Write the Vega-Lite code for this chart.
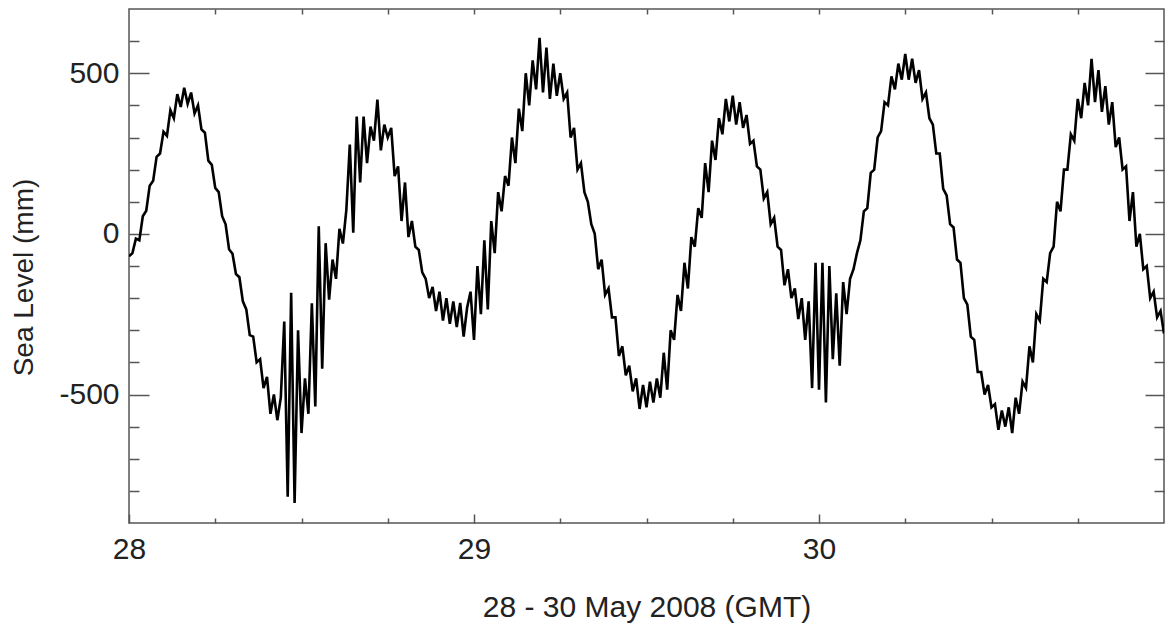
{
  "$schema": "https://vega.github.io/schema/vega-lite/v6.json",
  "width": 1035,
  "height": 514,
  "autosize": {"type": "none"},
  "padding": {"left": 129, "top": 9, "right": 2, "bottom": 116},
  "background": "white",
  "config": {
    "view": {"stroke": "#555", "strokeWidth": 1.5},
    "font": "Liberation Sans",
    "axis": {"domain": false, "grid": false, "tickColor": "#555", "tickWidth": 1.5, "labelColor": "#222", "titleColor": "#222", "labelFont": "Liberation Sans", "titleFont": "Liberation Sans", "titleFontWeight": "normal"}
  },
  "data": {"values": [
    {"d":28.00,"mm":-70},{"d":28.01,"mm":-60},{"d":28.02,"mm":-15},{"d":28.03,"mm":-20},{"d":28.04,"mm":55},{"d":28.05,"mm":72},{"d":28.06,"mm":150},{"d":28.07,"mm":165},{"d":28.08,"mm":240},{"d":28.09,"mm":250},
    {"d":28.10,"mm":318},{"d":28.11,"mm":305},{"d":28.12,"mm":385},{"d":28.13,"mm":360},{"d":28.14,"mm":435},{"d":28.15,"mm":395},{"d":28.16,"mm":455},{"d":28.17,"mm":405},{"d":28.18,"mm":440},{"d":28.19,"mm":375},
    {"d":28.20,"mm":400},{"d":28.21,"mm":325},{"d":28.22,"mm":315},{"d":28.23,"mm":228},{"d":28.24,"mm":215},{"d":28.25,"mm":143},{"d":28.26,"mm":130},{"d":28.27,"mm":55},{"d":28.28,"mm":30},{"d":28.29,"mm":-48},
    {"d":28.30,"mm":-62},{"d":28.31,"mm":-125},{"d":28.32,"mm":-135},{"d":28.33,"mm":-210},{"d":28.34,"mm":-235},{"d":28.35,"mm":-315},{"d":28.36,"mm":-320},{"d":28.37,"mm":-400},{"d":28.38,"mm":-390},{"d":28.39,"mm":-480},
    {"d":28.40,"mm":-445},{"d":28.41,"mm":-560},{"d":28.42,"mm":-500},{"d":28.43,"mm":-580},{"d":28.44,"mm":-510},{"d":28.45,"mm":-273},{"d":28.46,"mm":-818},{"d":28.47,"mm":-183},{"d":28.48,"mm":-838},{"d":28.49,"mm":-300},
    {"d":28.50,"mm":-620},{"d":28.51,"mm":-450},{"d":28.52,"mm":-560},{"d":28.53,"mm":-216},{"d":28.54,"mm":-537},{"d":28.55,"mm":24},{"d":28.56,"mm":-420},{"d":28.57,"mm":-29},{"d":28.58,"mm":-205},{"d":28.59,"mm":-80},
    {"d":28.60,"mm":-140},{"d":28.61,"mm":16},{"d":28.62,"mm":-30},{"d":28.63,"mm":75},{"d":28.64,"mm":278},{"d":28.65,"mm":4},{"d":28.66,"mm":365},{"d":28.67,"mm":160},{"d":28.68,"mm":365},{"d":28.69,"mm":220},
    {"d":28.70,"mm":334},{"d":28.71,"mm":290},{"d":28.72,"mm":418},{"d":28.73,"mm":260},{"d":28.74,"mm":340},{"d":28.75,"mm":300},{"d":28.76,"mm":330},{"d":28.77,"mm":180},{"d":28.78,"mm":210},{"d":28.79,"mm":40},
    {"d":28.80,"mm":160},{"d":28.81,"mm":-10},{"d":28.82,"mm":40},{"d":28.83,"mm":-40},{"d":28.84,"mm":-50},{"d":28.85,"mm":-120},{"d":28.86,"mm":-140},{"d":28.87,"mm":-200},{"d":28.88,"mm":-165},{"d":28.89,"mm":-240},
    {"d":28.90,"mm":-180},{"d":28.91,"mm":-270},{"d":28.92,"mm":-200},{"d":28.93,"mm":-280},{"d":28.94,"mm":-210},{"d":28.95,"mm":-290},{"d":28.96,"mm":-215},{"d":28.97,"mm":-320},{"d":28.98,"mm":-230},{"d":28.99,"mm":-180},
    {"d":29.00,"mm":-330},{"d":29.01,"mm":-100},{"d":29.02,"mm":-250},{"d":29.03,"mm":-20},{"d":29.04,"mm":-235},{"d":29.05,"mm":40},{"d":29.06,"mm":-60},{"d":29.07,"mm":130},{"d":29.08,"mm":70},{"d":29.09,"mm":180},
    {"d":29.10,"mm":150},{"d":29.11,"mm":300},{"d":29.12,"mm":220},{"d":29.13,"mm":390},{"d":29.14,"mm":320},{"d":29.15,"mm":500},{"d":29.16,"mm":400},{"d":29.17,"mm":540},{"d":29.18,"mm":450},{"d":29.19,"mm":610},
    {"d":29.20,"mm":440},{"d":29.21,"mm":580},{"d":29.22,"mm":420},{"d":29.23,"mm":530},{"d":29.24,"mm":430},{"d":29.25,"mm":500},{"d":29.26,"mm":420},{"d":29.27,"mm":440},{"d":29.28,"mm":300},{"d":29.29,"mm":330},
    {"d":29.30,"mm":200},{"d":29.31,"mm":220},{"d":29.32,"mm":130},{"d":29.33,"mm":100},{"d":29.34,"mm":30},{"d":29.35,"mm":0},{"d":29.36,"mm":-110},{"d":29.37,"mm":-80},{"d":29.38,"mm":-190},{"d":29.39,"mm":-170},
    {"d":29.40,"mm":-260},{"d":29.41,"mm":-260},{"d":29.42,"mm":-380},{"d":29.43,"mm":-350},{"d":29.44,"mm":-440},{"d":29.45,"mm":-410},{"d":29.46,"mm":-490},{"d":29.47,"mm":-450},{"d":29.48,"mm":-545},{"d":29.49,"mm":-470},
    {"d":29.50,"mm":-540},{"d":29.51,"mm":-460},{"d":29.52,"mm":-525},{"d":29.53,"mm":-450},{"d":29.54,"mm":-510},{"d":29.55,"mm":-370},{"d":29.56,"mm":-485},{"d":29.57,"mm":-300},{"d":29.58,"mm":-330},{"d":29.59,"mm":-190},
    {"d":29.60,"mm":-240},{"d":29.61,"mm":-90},{"d":29.62,"mm":-170},{"d":29.63,"mm":-10},{"d":29.64,"mm":-40},{"d":29.65,"mm":80},{"d":29.66,"mm":50},{"d":29.67,"mm":220},{"d":29.68,"mm":130},{"d":29.69,"mm":290},
    {"d":29.70,"mm":230},{"d":29.71,"mm":360},{"d":29.72,"mm":310},{"d":29.73,"mm":420},{"d":29.74,"mm":350},{"d":29.75,"mm":430},{"d":29.76,"mm":340},{"d":29.77,"mm":410},{"d":29.78,"mm":330},{"d":29.79,"mm":370},
    {"d":29.80,"mm":280},{"d":29.81,"mm":290},{"d":29.82,"mm":210},{"d":29.83,"mm":200},{"d":29.84,"mm":110},{"d":29.85,"mm":130},{"d":29.86,"mm":30},{"d":29.87,"mm":50},{"d":29.88,"mm":-40},{"d":29.89,"mm":-50},
    {"d":29.90,"mm":-160},{"d":29.91,"mm":-110},{"d":29.92,"mm":-200},{"d":29.93,"mm":-170},{"d":29.94,"mm":-265},{"d":29.95,"mm":-200},{"d":29.96,"mm":-330},{"d":29.97,"mm":-210},{"d":29.98,"mm":-480},{"d":29.99,"mm":-90},
    {"d":30.00,"mm":-485},{"d":30.01,"mm":-90},{"d":30.02,"mm":-525},{"d":30.03,"mm":-100},{"d":30.04,"mm":-390},{"d":30.05,"mm":-185},{"d":30.06,"mm":-410},{"d":30.07,"mm":-150},{"d":30.08,"mm":-250},{"d":30.09,"mm":-140},
    {"d":30.10,"mm":-110},{"d":30.11,"mm":-60},{"d":30.12,"mm":-20},{"d":30.13,"mm":70},{"d":30.14,"mm":80},{"d":30.15,"mm":190},{"d":30.16,"mm":200},{"d":30.17,"mm":300},{"d":30.18,"mm":320},{"d":30.19,"mm":410},
    {"d":30.20,"mm":400},{"d":30.21,"mm":490},{"d":30.22,"mm":450},{"d":30.23,"mm":530},{"d":30.24,"mm":480},{"d":30.25,"mm":560},{"d":30.26,"mm":480},{"d":30.27,"mm":545},{"d":30.28,"mm":470},{"d":30.29,"mm":510},
    {"d":30.30,"mm":420},{"d":30.31,"mm":440},{"d":30.32,"mm":360},{"d":30.33,"mm":340},{"d":30.34,"mm":250},{"d":30.35,"mm":250},{"d":30.36,"mm":140},{"d":30.37,"mm":120},{"d":30.38,"mm":30},{"d":30.39,"mm":20},
    {"d":30.40,"mm":-80},{"d":30.41,"mm":-90},{"d":30.42,"mm":-200},{"d":30.43,"mm":-220},{"d":30.44,"mm":-320},{"d":30.45,"mm":-330},{"d":30.46,"mm":-430},{"d":30.47,"mm":-430},{"d":30.48,"mm":-500},{"d":30.49,"mm":-470},
    {"d":30.50,"mm":-540},{"d":30.51,"mm":-530},{"d":30.52,"mm":-610},{"d":30.53,"mm":-550},{"d":30.54,"mm":-600},{"d":30.55,"mm":-540},{"d":30.56,"mm":-620},{"d":30.57,"mm":-510},{"d":30.58,"mm":-560},{"d":30.59,"mm":-460},
    {"d":30.60,"mm":-480},{"d":30.61,"mm":-350},{"d":30.62,"mm":-400},{"d":30.63,"mm":-250},{"d":30.64,"mm":-270},{"d":30.65,"mm":-140},{"d":30.66,"mm":-150},{"d":30.67,"mm":-60},{"d":30.68,"mm":-40},{"d":30.69,"mm":100},
    {"d":30.70,"mm":70},{"d":30.71,"mm":200},{"d":30.72,"mm":200},{"d":30.73,"mm":310},{"d":30.74,"mm":290},{"d":30.75,"mm":420},{"d":30.76,"mm":360},{"d":30.77,"mm":470},{"d":30.78,"mm":400},{"d":30.79,"mm":545},
    {"d":30.80,"mm":410},{"d":30.81,"mm":510},{"d":30.82,"mm":380},{"d":30.83,"mm":460},{"d":30.84,"mm":340},{"d":30.85,"mm":410},{"d":30.86,"mm":270},{"d":30.87,"mm":300},{"d":30.88,"mm":200},{"d":30.89,"mm":210},
    {"d":30.90,"mm":40},{"d":30.91,"mm":130},{"d":30.92,"mm":-40},{"d":30.93,"mm":0},{"d":30.94,"mm":-110},{"d":30.95,"mm":-100},{"d":30.96,"mm":-200},{"d":30.97,"mm":-180},{"d":30.98,"mm":-260},{"d":30.99,"mm":-240},
    {"d":31.00,"mm":-310}
  ]},
  "resolve": {"axis": {"x": "independent", "y": "independent"}},
  "layer": [
    {
      "mark": {"type": "line", "color": "black", "strokeWidth": 2.6, "strokeJoin": "miter", "clip": true},
      "encoding": {
        "x": {"field": "d", "type": "quantitative", "scale": {"domain": [28, 31], "nice": false, "zero": false},
          "axis": {"orient": "bottom", "values": [28, 29, 30], "tickSize": -9, "labelFontSize": 30, "labelPadding": 20, "labelFlush": false, "labelOverlap": false, "title": "28 - 30 May 2008 (GMT)", "titleFontSize": 30, "titlePadding": 28}},
        "y": {"field": "mm", "type": "quantitative", "scale": {"domain": [-900, 700], "nice": false, "zero": false},
          "axis": {"orient": "left", "values": [-500, 0, 500], "labelExpr": "'' + datum.value", "tickSize": -20, "labelFontSize": 30, "labelPadding": 30, "labelOverlap": false, "title": "Sea Level (mm)", "titleFontSize": 28, "titlePadding": 20, "titleY": 268}}
      }
    },
    {
      "mark": {"type": "line", "opacity": 0},
      "encoding": {
        "x": {"field": "d", "type": "quantitative", "axis": {"orient": "bottom", "values": [28.25, 28.5, 28.75, 29.25, 29.5, 29.75, 30.25, 30.5, 30.75], "tickSize": -5, "labels": false, "title": null}},
        "y": {"field": "mm", "type": "quantitative", "axis": {"orient": "left", "values": [-800, -700, -600, -400, -300, -200, -100, 100, 200, 300, 400, 600], "tickSize": -10, "labels": false, "title": null}}
      }
    },
    {
      "mark": {"type": "line", "opacity": 0},
      "encoding": {
        "x": {"field": "d", "type": "quantitative", "axis": {"orient": "top", "values": [28.25, 28.5, 28.75, 29, 29.25, 29.5, 29.75, 30, 30.25, 30.5, 30.75], "tickSize": -5, "labels": false, "title": null}},
        "y": {"field": "mm", "type": "quantitative", "axis": {"orient": "right", "values": [-500, 0, 500], "tickSize": -19, "labels": false, "title": null}}
      }
    },
    {
      "mark": {"type": "line", "opacity": 0},
      "encoding": {
        "x": {"field": "d", "type": "quantitative", "axis": null},
        "y": {"field": "mm", "type": "quantitative", "axis": {"orient": "right", "values": [-800, -700, -600, -400, -300, -200, -100, 100, 200, 300, 400, 600], "tickSize": -10, "labels": false, "title": null}}
      }
    }
  ]
}
